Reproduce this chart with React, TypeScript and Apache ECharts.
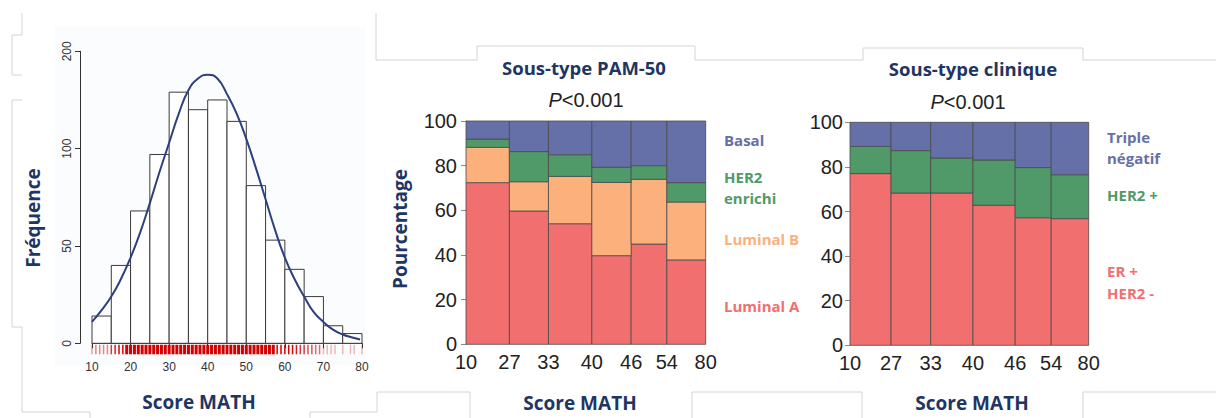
import { useEffect, useRef } from "react";
import * as echarts from "echarts";

// ---------- Histogram (left panel) ----------
const histStarts = [10, 15, 20, 25, 30, 35, 40, 45, 50, 55, 60, 65, 70, 75];
const histCounts = [14, 40, 68, 97, 129, 120, 125, 114, 81, 53, 38, 24, 9, 5];
const histBinWidth = 5;
const histYTickLabels = ["0", "50", "100", "200"];
const curveX = [10, 12.5, 15, 17.5, 20, 22.5, 25, 27.5, 30, 32.5, 35, 37.5, 40, 42.5, 45, 47.5, 50, 52.5, 55, 57.5, 60, 62.5, 65, 67.5, 70, 72.5, 75, 77.5, 79.5];
const curveY = [11, 17, 24, 33, 44, 57, 72, 88, 103, 118, 130, 136, 138, 136, 128, 118, 105, 90, 74, 58, 44, 33, 24, 16, 11, 7, 4.5, 3, 2];
const rugScores = [10, 11, 12, 13, 14, 15, 16, 17, 18, 19, 20, 21, 22, 23, 24, 25, 26, 27, 28, 29, 30, 31, 32, 33, 34, 35, 36, 37, 38, 39, 40, 41, 42, 43, 44, 45, 46, 47, 48, 49, 50, 51, 52, 53, 54, 55, 56, 57, 58, 59, 60, 61, 62, 63, 64, 65, 66, 67, 68, 69, 70, 71, 72, 73, 74, 75, 76, 77, 78, 79, 80];
const rugCounts = [2, 3, 3, 3, 3, 6, 7, 8, 9, 10, 12, 13, 14, 14, 15, 17, 18, 20, 20, 22, 24, 25, 26, 27, 27, 23, 24, 24, 24, 25, 26, 25, 25, 25, 24, 24, 23, 23, 22, 22, 19, 17, 16, 15, 14, 13, 11, 11, 9, 9, 9, 8, 8, 7, 6, 6, 5, 5, 4, 4, 1, 1, 1, 1, 0, 1, 0, 1, 1, 0, 1];

// ---------- Mosaic panels ----------
const groupTickLabels = ["10", "27", "33", "40", "46", "54", "80"];

const pamShares = [18.1, 16.3, 18.1, 16.4, 14.9, 16.2];
const pamLuminalA = [72.4, 59.7, 54.0, 39.7, 44.9, 37.8];
const pamLuminalB = [15.8, 13.1, 21.2, 32.8, 29.0, 25.9];
const pamHer2 = [3.7, 13.5, 9.7, 6.8, 6.1, 8.7];
const pamBasal = [8.1, 13.7, 15.1, 20.7, 20.0, 27.6];

const clinShares = [17.2, 16.6, 17.7, 17.7, 15.1, 15.7];
const clinErPos = [77.0, 68.3, 68.3, 62.8, 57.2, 56.8];
const clinHer2Pos = [12.2, 19.0, 15.7, 20.3, 22.5, 19.7];
const clinTripleNeg = [10.8, 12.7, 16.0, 16.9, 20.3, 23.5];

const COL_RED = "#f26f70";
const COL_ORANGE = "#fcb07b";
const COL_GREEN = "#4f9a68";
const COL_BLUE = "#6670a8";
const NAVY = "#1f3563";
const DECOR = "#d4d4d4";

function cumulative(arr: number[]) {
  const out = [0];
  arr.forEach((v) => out.push(out[out.length - 1] + v));
  return out;
}

function mosaicSeries(shares: number[], layers: { name: string; values: number[]; color: string }[], gridIndex: number) {
  const bounds = cumulative(shares);
  const base = shares.map(() => 0);
  return layers.map((layer) => {
    const data = layer.values.map((v, i) => {
      const item = [bounds[i], bounds[i + 1], base[i], base[i] + v];
      base[i] += v;
      return item;
    });
    return {
      type: "custom",
      name: layer.name,
      xAxisIndex: gridIndex,
      yAxisIndex: gridIndex,
      data,
      encode: { x: [0, 1], y: [2, 3] },
      renderItem: (params: any, api: any) => {
        const p0 = api.coord([api.value(0), api.value(3)]);
        const p1 = api.coord([api.value(1), api.value(2)]);
        return {
          type: "rect",
          shape: { x: p0[0], y: p0[1], width: p1[0] - p0[0], height: p1[1] - p0[1] },
          style: { fill: layer.color, stroke: "#4a4a4a", lineWidth: 0.8 },
        };
      },
    };
  });
}

function mosaicXAxis(shares: number[], gridIndex: number) {
  const bounds = cumulative(shares);
  return {
    type: "value",
    gridIndex,
    min: 0,
    max: bounds[bounds.length - 1],
    splitLine: { show: false },
    axisLine: { show: false },
    axisTick: { show: false },
    axisLabel: {
      customValues: bounds,
      margin: 8,
      fontSize: 20,
      color: "#222",
      fontFamily: "Liberation Sans",
      formatter: (v: number) => {
        let best = 0;
        bounds.forEach((b, i) => {
          if (Math.abs(b - v) < Math.abs(bounds[best] - v)) best = i;
        });
        return groupTickLabels[best];
      },
    },
  };
}

function mosaicYAxis(gridIndex: number, margin: number) {
  return {
    type: "value",
    gridIndex,
    min: 0,
    max: 100,
    interval: 20,
    splitLine: { show: false },
    axisLine: { show: true, lineStyle: { color: "#8c8c8c", width: 1 } },
    axisTick: { show: true, length: 5, lineStyle: { color: "#8c8c8c" } },
    axisLabel: { margin, fontSize: 20, color: "#222", fontFamily: "Liberation Sans" },
  };
}

const boldText = (text: string, x: number, y: number, size: number, color: string, extra: any = {}) => ({
  type: "text",
  x,
  y,
  ...extra,
  style: {
    text,
    fill: color,
    font: `bold ${size}px "Open Sans"`,
    align: extra.alignLeft ? "left" : "center",
    verticalAlign: "middle",
  },
});

const pText = (x: number, y: number) => ({
  type: "text",
  x,
  y,
  style: {
    text: "{i|P}<0.001",
    fill: "#222",
    fontFamily: "Liberation Sans",
    fontSize: 20,
    align: "center",
    verticalAlign: "middle",
    rich: { i: { fontStyle: "italic", fontSize: 20, fontFamily: "Liberation Sans", fill: "#222" } },
  },
});

const decorLine = (x1: number, y1: number, x2: number, y2: number) => ({
  type: "line",
  shape: { x1, y1, x2, y2 },
  style: { stroke: DECOR, lineWidth: 1 },
  z: -1,
});

export default function App() {
  const ref = useRef<HTMLDivElement>(null);

  useEffect(() => {
    document.body.style.margin = "0";
    if (!ref.current) return;
    const chart = echarts.init(ref.current, null, { renderer: "svg" });

    const histData = histStarts.map((s, i) => [s, s + histBinWidth, histCounts[i]]);
    const rugData = rugScores.map((s, i) => [s, rugCounts[i]]).filter((d) => d[1] > 0);

    const option: any = {
      animation: false,
      backgroundColor: "#ffffff",
      grid: [
        { left: 92, top: 51.3, width: 270, height: 292 },
        { left: 466, top: 121, width: 239.7, height: 223.3 },
        { left: 850, top: 122.3, width: 238.7, height: 223 },
      ],
      xAxis: [
        {
          type: "value",
          gridIndex: 0,
          min: 10,
          max: 80,
          interval: 10,
          offset: 12,
          splitLine: { show: false },
          axisLine: { show: true, lineStyle: { color: "#333", width: 1 } },
          axisTick: { show: true, length: 5, lineStyle: { color: "#333" } },
          axisLabel: { margin: 6, fontSize: 12, color: "#333", fontFamily: "Liberation Sans" },
        },
        mosaicXAxis(pamShares, 1),
        mosaicXAxis(clinShares, 2),
      ],
      yAxis: [
        {
          type: "value",
          gridIndex: 0,
          min: 0,
          max: 150,
          interval: 50,
          offset: 12,
          splitLine: { show: false },
          axisLine: { show: true, lineStyle: { color: "#333", width: 1 } },
          axisTick: { show: true, length: 5, lineStyle: { color: "#333" } },
          axisLabel: {
            rotate: 90,
            margin: 7,
            fontSize: 12,
            color: "#333",
            fontFamily: "Liberation Sans",
            formatter: (v: number) => histYTickLabels[Math.round(v / 50)],
          },
        },
        mosaicYAxis(1, 9),
        mosaicYAxis(2, 7),
      ],
      series: [
        {
          type: "custom",
          name: "hist",
          xAxisIndex: 0,
          yAxisIndex: 0,
          data: histData,
          encode: { x: [0, 1], y: 2 },
          renderItem: (params: any, api: any) => {
            const p0 = api.coord([api.value(0), api.value(2)]);
            const p1 = api.coord([api.value(1), 0]);
            return {
              type: "rect",
              shape: { x: p0[0], y: p0[1], width: p1[0] - p0[0], height: p1[1] - p0[1] },
              style: { fill: "#ffffff", stroke: "#3a3a3a", lineWidth: 1 },
            };
          },
        },
        {
          type: "custom",
          name: "rug",
          xAxisIndex: 0,
          yAxisIndex: 0,
          data: rugData,
          encode: { x: 0 },
          renderItem: (params: any, api: any) => {
            const p = api.coord([api.value(0), 0]);
            const c = api.value(1);
            const alpha = Math.min(1, 0.18 + c / 10);
            return {
              type: "line",
              shape: { x1: p[0], y1: p[1] + 1.5, x2: p[0], y2: p[1] + 11 },
              style: { stroke: `rgba(210,0,0,${alpha})`, lineWidth: c >= 10 ? 3 : 1.5 },
            };
          },
        },
        {
          type: "line",
          name: "normal",
          xAxisIndex: 0,
          yAxisIndex: 0,
          data: curveX.map((x, i) => [x, curveY[i]]),
          smooth: true,
          symbol: "none",
          lineStyle: { color: "#2d3f7e", width: 2 },
          z: 5,
        },
        ...mosaicSeries(
          pamShares,
          [
            { name: "Luminal A", values: pamLuminalA, color: COL_RED },
            { name: "Luminal B", values: pamLuminalB, color: COL_ORANGE },
            { name: "HER2 enrichi", values: pamHer2, color: COL_GREEN },
            { name: "Basal", values: pamBasal, color: COL_BLUE },
          ],
          1
        ),
        ...mosaicSeries(
          clinShares,
          [
            { name: "ER + HER2 -", values: clinErPos, color: COL_RED },
            { name: "HER2 +", values: clinHer2Pos, color: COL_GREEN },
            { name: "Triple négatif", values: clinTripleNeg, color: COL_BLUE },
          ],
          2
        ),
      ],
      graphic: [
        // faint slide-frame remnants
        { type: "rect", shape: { x: 55, y: 27, width: 310, height: 338 }, style: { fill: "#fafcfd" }, z: -2 },
        decorLine(22, 13, 22, 35),
        decorLine(12, 35, 22, 35),
        decorLine(12, 35, 12, 75),
        decorLine(12, 75, 22, 75),
        decorLine(12, 100, 22, 100),
        decorLine(12, 100, 12, 327),
        decorLine(12, 327, 22, 327),
        decorLine(22, 327, 22, 412),
        decorLine(22, 412, 90, 412),
        decorLine(90, 412, 90, 418),
        decorLine(310, 412, 310, 418),
        decorLine(310, 412, 377, 412),
        decorLine(377, 392, 377, 412),
        decorLine(377, 392, 470, 392),
        decorLine(470, 392, 470, 418),
        decorLine(692, 392, 692, 418),
        decorLine(692, 392, 862, 392),
        decorLine(862, 392, 862, 418),
        decorLine(1083, 392, 1083, 418),
        decorLine(1083, 392, 1216, 392),
        decorLine(376, 13, 376, 60),
        decorLine(376, 60, 477, 60),
        decorLine(477, 46, 477, 60),
        decorLine(477, 46, 695, 46),
        decorLine(695, 46, 695, 60),
        decorLine(695, 60, 863, 60),
        decorLine(863, 48, 863, 60),
        decorLine(863, 48, 1083, 48),
        decorLine(1083, 48, 1083, 60),
        decorLine(1083, 60, 1216, 60),
        // axis titles
        boldText("Fréquence", 33, 218, 19, NAVY, { rotation: Math.PI / 2 }),
        boldText("Pourcentage", 400, 229, 19, NAVY, { rotation: Math.PI / 2 }),
        boldText("Score MATH", 199, 402, 19, NAVY),
        boldText("Score MATH", 580, 403, 19, NAVY),
        boldText("Score MATH", 972, 403, 19, NAVY),
        // panel titles
        boldText("Sous-type PAM-50", 584, 67, 18.5, NAVY),
        boldText("Sous-type clinique", 973, 68, 18.5, NAVY),
        pText(586, 100),
        pText(968, 102),
        // mosaic labels
        boldText("Basal", 724, 140, 15, COL_BLUE, { alignLeft: true }),
        boldText("HER2", 724, 177, 15, COL_GREEN, { alignLeft: true }),
        boldText("enrichi", 724, 198, 15, COL_GREEN, { alignLeft: true }),
        boldText("Luminal B", 724, 239, 15, COL_ORANGE, { alignLeft: true }),
        boldText("Luminal A", 724, 306, 15, COL_RED, { alignLeft: true }),
        boldText("Triple", 1107, 137, 15, COL_BLUE, { alignLeft: true }),
        boldText("négatif", 1107, 158, 15, COL_BLUE, { alignLeft: true }),
        boldText("HER2 +", 1107, 195, 15, COL_GREEN, { alignLeft: true }),
        boldText("ER +", 1107, 271, 15, COL_RED, { alignLeft: true }),
        boldText("HER2 -", 1107, 293, 15, COL_RED, { alignLeft: true }),
      ],
    };

    chart.setOption(option);
    return () => chart.dispose();
  }, []);

  return <div ref={ref} style={{ width: 1216, height: 418 }} />;
}
